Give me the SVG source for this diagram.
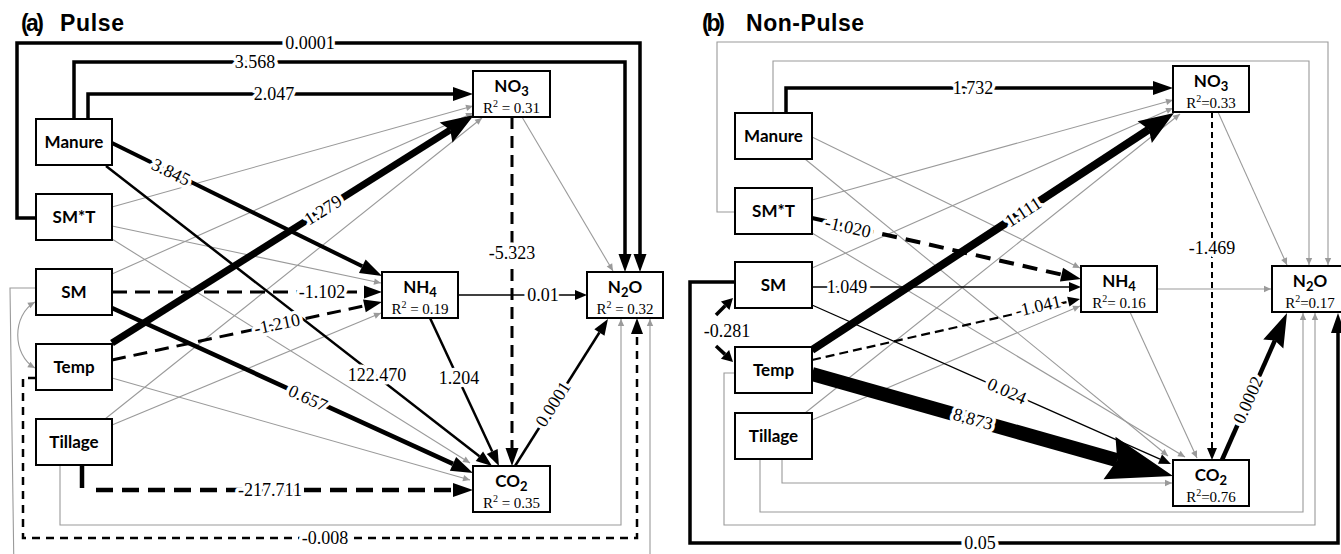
<svg xmlns="http://www.w3.org/2000/svg" width="1341" height="554" viewBox="0 0 1341 554">
<style>
.ttl{font-family:"Liberation Sans",Arial,sans-serif;font-weight:bold;font-size:23px;fill:#000}
.n rect{fill:#fff;stroke:#000;stroke-width:2}
.nt{font-family:Lato,"Liberation Sans",sans-serif;font-weight:bold;font-size:17px;text-anchor:middle;fill:#000}
.sub{font-size:13px}
.r2{font-family:"Liberation Serif","Times New Roman",serif;font-size:15px;text-anchor:middle;fill:#000}
.sup{font-size:10px}
.lb{font-family:"Liberation Serif","Times New Roman",serif;font-size:18px;text-anchor:middle;fill:#000;stroke:#fff;stroke-width:7px;paint-order:stroke;stroke-linejoin:round}
.k{fill:none;stroke:#000}
.g{fill:none;stroke:#9a9a9a;stroke-width:1.1;marker-end:url(#ag)}
</style>
<defs>
<marker id="ag" markerUnits="userSpaceOnUse" markerWidth="20" markerHeight="20" refX="0" refY="0" orient="auto-start-reverse" overflow="visible"><path d="M-7,-3.2L0,0L-7,3.2z" fill="#9a9a9a"/></marker>
<marker id="a12" markerUnits="userSpaceOnUse" markerWidth="20" markerHeight="20" refX="0" refY="0" orient="auto" overflow="visible"><path d="M0,-5L12,0L0,5z" fill="#000"/></marker>
<marker id="a16" markerUnits="userSpaceOnUse" markerWidth="20" markerHeight="20" refX="0" refY="0" orient="auto" overflow="visible"><path d="M0,-6L16,0L0,6z" fill="#000"/></marker>
<marker id="a18" markerUnits="userSpaceOnUse" markerWidth="20" markerHeight="20" refX="0" refY="0" orient="auto" overflow="visible"><path d="M0,-6.5L18,0L0,6.5z" fill="#000"/></marker>
<marker id="a20" markerUnits="userSpaceOnUse" markerWidth="20" markerHeight="20" refX="0" refY="0" orient="auto" overflow="visible"><path d="M0,-7L20,0L0,7z" fill="#000"/></marker>
<marker id="a22" markerUnits="userSpaceOnUse" markerWidth="20" markerHeight="20" refX="0" refY="0" orient="auto" overflow="visible"><path d="M0,-7.5L22,0L0,7.5z" fill="#000"/></marker>
<marker id="a28" markerUnits="userSpaceOnUse" markerWidth="20" markerHeight="20" refX="0" refY="0" orient="auto" overflow="visible"><path d="M-5,-12L28,0L-5,12L0,0z" fill="#000"/></marker>
<marker id="a30" markerUnits="userSpaceOnUse" markerWidth="20" markerHeight="20" refX="0" refY="0" orient="auto" overflow="visible"><path d="M-5,-13L30,0L-5,13L0,0z" fill="#000"/></marker>
<marker id="a30b" markerUnits="userSpaceOnUse" markerWidth="20" markerHeight="20" refX="0" refY="0" orient="auto" overflow="visible"><path d="M-4,-11L30,0L-4,11L0,0z" fill="#000"/></marker>
<marker id="a60" markerUnits="userSpaceOnUse" markerWidth="20" markerHeight="20" refX="0" refY="0" orient="auto" overflow="visible"><path d="M-8,-22L58,0L-8,22L0,0z" fill="#000"/></marker>
<marker id="ab" markerUnits="userSpaceOnUse" markerWidth="20" markerHeight="20" refX="0" refY="0" orient="auto" overflow="visible"><path d="M0,-6L11,0L0,6z" fill="#000"/></marker>
</defs>
<rect width="1341" height="554" fill="#fff"/>
<text class="ttl" x="21" y="31" textLength="23">(a)</text>
<text class="ttl" x="60" y="31" textLength="64">Pulse</text>
<text class="ttl" x="702" y="31" textLength="23">(b)</text>
<text class="ttl" x="746" y="31" textLength="118">Non-Pulse</text>

<g id="connectors">
<g id="gray-a">
<path class="g" d="M112,207 L473,106"/>
<path class="g" d="M112,274 L473,113"/>
<path class="g" d="M105,419 L482,118"/>
<path class="g" d="M112,226 L381,283"/>
<path class="g" d="M112,425 L381,313"/>
<path class="g" d="M112,239 L470,463"/>
<path class="g" d="M112,378 L470,480"/>
<path class="g" d="M522,117 L613,271"/>
<path class="g" d="M60,465 V525 H621 V319"/>
<path class="g" d="M36,288 H10 L14,575 H650 V319"/>
<path class="g" d="M35,302 C12,315 12,355 35,368" marker-start="url(#ag)"/>
</g>
<g id="gray-b">
<path class="g" d="M812,137 L1080,268"/>
<path class="g" d="M805,159 L1168,456"/>
<path class="g" d="M812,200 L1173,100"/>
<path class="g" d="M812,233 L1185,457"/>
<path class="g" d="M812,268 L1173,108"/>
<path class="g" d="M805,413 L1180,114"/>
<path class="g" d="M812,420 L1080,306"/>
<path class="g" d="M1130,312 L1197,458"/>
<path class="g" d="M1157,289 H1271"/>
<path class="g" d="M1218,112 L1287,265"/>
<path class="g" d="M782,459 V483 H1172"/>
<path class="g" d="M760,459 V512 H1303 V313"/>
<path class="g" d="M736,373 H724 V525 H1315 V313"/>
<path class="g" d="M773,113 V61 H1309 V265"/>
<path class="g" d="M735,212 H717 V42 H1328 V265"/>
</g>
<g id="black-a">
<path class="k" stroke-width="3.5" d="M36,218 H17 V43 H640 V254" marker-end="url(#a18)"/>
<path class="k" stroke-width="3.5" d="M74,119 V62 H625 V254" marker-end="url(#a18)"/>
<path class="k" stroke-width="3.5" d="M88,119 V94 H453" marker-end="url(#a20)"/>
<path class="k" stroke-width="4" d="M112,143 L362.3,266.3" marker-end="url(#a22)"/>
<path class="k" stroke-width="2.5" d="M106,166 L479.4,456.2" marker-end="url(#a16)"/>
<path class="k" stroke-width="7" d="M112,343 L450.3,129.9" marker-end="url(#a28)"/>
<path class="k" stroke-width="3" stroke-dasharray="15 8" d="M112,292 H364" marker-end="url(#a18)"/>
<path class="k" stroke-width="3" stroke-dasharray="14 8" d="M112,360 L364.4,305.8" marker-end="url(#a18)"/>
<path class="k" stroke-width="4.5" d="M112,308 L453,463.9" marker-end="url(#a22)"/>
<path class="k" stroke-width="1.6" d="M458,295 H575" marker-end="url(#a12)"/>
<path class="k" stroke-width="2.5" d="M430,318 L492.2,451.5" marker-end="url(#a16)"/>
<path class="k" stroke-width="3" stroke-dasharray="12 7" d="M512,117 V448" marker-end="url(#a18)"/>
<path class="k" stroke-width="2.5" d="M515,466 L599.4,332.5" marker-end="url(#a16)"/>
<path class="k" stroke-width="4.5" d="M82,465 V488"/>
<path class="k" stroke-width="4.5" stroke-dasharray="17 9" d="M96,490 H453" marker-end="url(#a20)"/>
<path class="k" stroke-width="2.5" stroke-dasharray="8 6" d="M36,378 H23 V538 H637 V334" marker-end="url(#a16)"/>
</g>
<g id="black-b">
<path class="k" stroke-width="3.5" d="M786,113 V88 H1153" marker-end="url(#a20)"/>
<path class="k" stroke-width="4" stroke-dasharray="15 9" d="M812,218 L1061.5,274.6" marker-end="url(#a20)"/>
<path class="k" stroke-width="8" d="M812,350 L1148.9,129.4" marker-end="url(#a30)"/>
<path class="k" stroke-width="1.5" d="M812,287 H1069" marker-end="url(#a12)"/>
<path class="k" stroke-width="2.2" stroke-dasharray="9 5" d="M812,360 L1068.3,301.7" marker-end="url(#a12)"/>
<path class="k" stroke-width="1.3" d="M812,305 L1160,459.1" marker-end="url(#a12)"/>
<path class="k" stroke-width="14" d="M812,374 L1117.2,460.2" marker-end="url(#a60)"/>
<path class="k" stroke-width="4.5" d="M1222,460 L1274.9,340.4" marker-end="url(#a30b)"/>
<path class="k" stroke-width="2" stroke-dasharray="6 4" d="M1212,112 V448" marker-end="url(#a12)"/>
<path class="k" stroke-width="3.5" d="M736,282 H690 V543 H1338 V333" marker-end="url(#a20)"/>
<path class="k" stroke-width="3.5" d="M716,315 L725.2,305.8" marker-end="url(#ab)"/>
<path class="k" stroke-width="3.5" d="M716,346 L725,354.4" marker-end="url(#ab)"/>
</g>
<g id="edge-labels">
<text class="lb" x="310" y="49">0.0001</text>
<text class="lb" x="255" y="68">3.568</text>
<text class="lb" x="274" y="100">2.047</text>
<text class="lb" transform="translate(171,172) rotate(26.2)" dy="6">3.845</text>
<text class="lb" x="377" y="381">122.470</text>
<text class="lb" transform="translate(323,210) rotate(-32.2)" dy="6">1.279</text>
<text class="lb" x="322" y="298">-1.102</text>
<text class="lb" transform="translate(277,324) rotate(-12.1)" dy="6">-1.210</text>
<text class="lb" transform="translate(308,398) rotate(24.6)" dy="6">0.657</text>
<text class="lb" x="543" y="301">0.01</text>
<text class="lb" x="459" y="384">1.204</text>
<text class="lb" x="512" y="259">-5.323</text>
<text class="lb" transform="translate(553,404) rotate(-57.7)" dy="6">0.0001</text>
<text class="lb" x="270" y="496">-217.711</text>
<text class="lb" x="325" y="544">-0.008</text>
<text class="lb" x="973" y="94">1.732</text>
<text class="lb" transform="translate(848,227) rotate(12.8)" dy="6">-1.020</text>
<text class="lb" transform="translate(1023,212) rotate(-33.2)" dy="6">1.111</text>
<text class="lb" x="847" y="293">1.049</text>
<text class="lb" transform="translate(1038,306) rotate(-12.8)" dy="6">-1.041</text>
<text class="lb" transform="translate(1007,391) rotate(23.9)" dy="6">0.024</text>
<text class="lb" transform="translate(973,419) rotate(15.8)" dy="6">8.873</text>
<text class="lb" transform="translate(1248,400) rotate(-66.1)" dy="6">0.0002</text>
<text class="lb" x="1212" y="254">-1.469</text>
<text class="lb" x="980" y="549">0.05</text>
<text class="lb" x="727" y="337">-0.281</text>
</g>
</g>

<g id="a-manure" class="n"><rect x="36" y="119" width="76" height="46"/><text class="nt" x="74" y="148">Manure</text></g>
<g id="a-smt" class="n"><rect x="36" y="194" width="76" height="46"/><text class="nt" x="74" y="223">SM*T</text></g>
<g id="a-sm" class="n"><rect x="36" y="269" width="76" height="46"/><text class="nt" x="74" y="298">SM</text></g>
<g id="a-temp" class="n"><rect x="36" y="344" width="76" height="46"/><text class="nt" x="74" y="373">Temp</text></g>
<g id="a-tillage" class="n"><rect x="36" y="419" width="76" height="46"/><text class="nt" x="74" y="448">Tillage</text></g>
<g id="a-no3" class="n"><rect x="473" y="71" width="77" height="46"/><text class="nt" x="511.5" y="92">NO<tspan class="sub" dy="4">3</tspan></text><text class="r2" x="511.5" y="113">R<tspan class="sup" dy="-6">2</tspan><tspan dy="6"> = 0.31</tspan></text></g>
<g id="a-nh4" class="n"><rect x="382" y="272" width="76" height="46"/><text class="nt" x="420" y="293">NH<tspan class="sub" dy="4">4</tspan></text><text class="r2" x="420" y="314">R<tspan class="sup" dy="-6">2</tspan><tspan dy="6"> = 0.19</tspan></text></g>
<g id="a-n2o" class="n"><rect x="587" y="272" width="76" height="46"/><text class="nt" x="625" y="293">N<tspan class="sub" dy="4">2</tspan><tspan dy="-4">O</tspan></text><text class="r2" x="625" y="314">R<tspan class="sup" dy="-6">2</tspan><tspan dy="6"> = 0.32</tspan></text></g>
<g id="a-co2" class="n"><rect x="473" y="466" width="77" height="46"/><text class="nt" x="511.5" y="487">CO<tspan class="sub" dy="4">2</tspan></text><text class="r2" x="511.5" y="508">R<tspan class="sup" dy="-6">2</tspan><tspan dy="6"> = 0.35</tspan></text></g>

<g id="b-manure" class="n"><rect x="735" y="113" width="77" height="46"/><text class="nt" x="773.5" y="142">Manure</text></g>
<g id="b-smt" class="n"><rect x="735" y="188" width="77" height="46"/><text class="nt" x="773.5" y="217">SM*T</text></g>
<g id="b-sm" class="n"><rect x="735" y="262" width="77" height="46"/><text class="nt" x="773.5" y="291">SM</text></g>
<g id="b-temp" class="n"><rect x="735" y="347" width="77" height="46"/><text class="nt" x="773.5" y="376">Temp</text></g>
<g id="b-tillage" class="n"><rect x="735" y="413" width="77" height="46"/><text class="nt" x="773.5" y="442">Tillage</text></g>
<g id="b-no3" class="n"><rect x="1173" y="66" width="76" height="46"/><text class="nt" x="1211" y="87">NO<tspan class="sub" dy="4">3</tspan></text><text class="r2" x="1211" y="108">R<tspan class="sup" dy="-6">2</tspan><tspan dy="6">=0.33</tspan></text></g>
<g id="b-nh4" class="n"><rect x="1081" y="266" width="76" height="46"/><text class="nt" x="1119" y="287">NH<tspan class="sub" dy="4">4</tspan></text><text class="r2" x="1119" y="308">R<tspan class="sup" dy="-6">2</tspan><tspan dy="6">= 0.16</tspan></text></g>
<g id="b-n2o" class="n"><rect x="1272" y="266" width="76" height="46"/><text class="nt" x="1310" y="287">N<tspan class="sub" dy="4">2</tspan><tspan dy="-4">O</tspan></text><text class="r2" x="1310" y="308">R<tspan class="sup" dy="-6">2</tspan><tspan dy="6">=0.17</tspan></text></g>
<g id="b-co2" class="n"><rect x="1173" y="460" width="76" height="46"/><text class="nt" x="1211" y="481">CO<tspan class="sub" dy="4">2</tspan></text><text class="r2" x="1211" y="502">R<tspan class="sup" dy="-6">2</tspan><tspan dy="6">=0.76</tspan></text></g>
</svg>
